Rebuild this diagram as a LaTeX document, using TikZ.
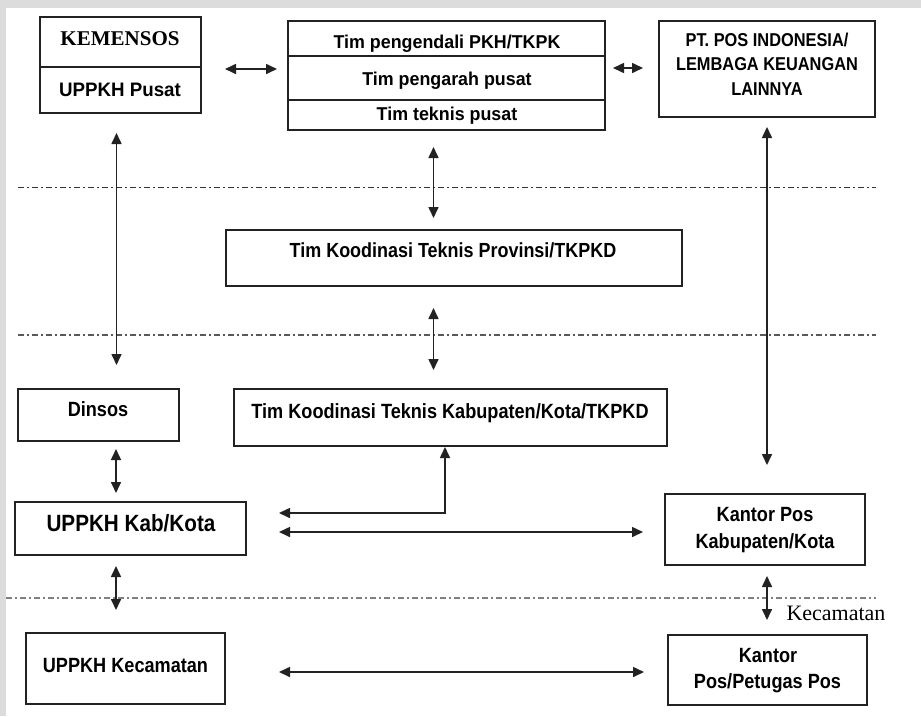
\documentclass[tikz,border=0pt]{standalone}
\usepackage{fontspec}
\setmainfont{Liberation Sans}[FakeStretch=0.88]
\newfontfamily\wsans{Liberation Sans}[FakeStretch=0.96]
\newfontfamily\tnr{Liberation Serif}
\usetikzlibrary{arrows.meta}
\definecolor{edge}{HTML}{222222}
\definecolor{strip}{HTML}{DCDCDC}
\begin{document}
\begin{tikzpicture}[x=1pt,y=-1pt,
  box/.style={draw=edge, line width=1.6pt, inner sep=0pt},
  lbl/.style={anchor=base, inner sep=0pt, text=black, font=\bfseries\fontsize{20.6}{24}\selectfont},
  tlbl/.style={anchor=base, inner sep=0pt, text=black, font=\wsans\bfseries\fontsize{18.6}{22}\selectfont},
  plbl/.style={anchor=base, inner sep=0pt, text=black, font=\bfseries\fontsize{18.6}{22}\selectfont},
  dbl/.style={draw=edge, line width=1.6pt, {Triangle[length=11pt,width=10pt]}-{Triangle[length=11pt,width=10pt]}},
  sep/.style={line width=1.1pt, dash pattern=on 6pt off 3pt on 2pt off 3pt}
]
\useasboundingbox (0,0) rectangle (921,716);
\fill[white] (0,0) rectangle (921,716);
\fill[strip] (0,0) rectangle (921,8);
\fill[strip] (0,0) rectangle (6,716);

% separators
\draw[sep, draw=black!80] (18,187.5) -- (876,187.5);
\draw[sep, draw=black!65] (18,335) -- (876,335);
\draw[sep, draw=black!50] (6,598) -- (876,598);

% boxes
\node[box, minimum width=161pt, minimum height=50pt] (kem) at (120.5,42) {};
\node[box, minimum width=161pt, minimum height=46pt] (upusat) at (120.5,90) {};
\node[box, minimum width=317pt, minimum height=35pt] (tim1) at (446.5,38.5) {};
\node[box, minimum width=317pt, minimum height=44pt] (tim2) at (446.5,78) {};
\node[box, minimum width=317pt, minimum height=30pt] (tim3) at (446.5,115) {};
\node[box, minimum width=216pt, minimum height=96pt] (pt) at (767,69) {};
\node[box, minimum width=456pt, minimum height=56pt] (prov) at (454,258) {};
\node[box, minimum width=161pt, minimum height=52pt] (dinsos) at (98.5,415) {};
\node[box, minimum width=433pt, minimum height=57pt] (kabt) at (450.5,417.5) {};
\node[box, minimum width=231pt, minimum height=53pt] (ukab) at (130.5,528.5) {};
\node[box, minimum width=200pt, minimum height=71pt] (kpkab) at (765,529.5) {};
\node[box, minimum width=199pt, minimum height=71pt] (ukec) at (125.5,668.5) {};
\node[box, minimum width=199pt, minimum height=70pt] (kpkec) at (767.5,670) {};

% texts
\node[anchor=base, inner sep=0pt, font=\tnr\bfseries\fontsize{21}{24}\selectfont] (tkem) at (120,45) {KEMENSOS};
\node[anchor=base, inner sep=0pt, font=\wsans\bfseries\fontsize{19.5}{23}\selectfont] (tupusat) at (120,96) {UPPKH Pusat};
\node[tlbl] (ttim1) at (447,48) {Tim pengendali PKH/TKPK};
\node[tlbl] (ttim2) at (447,85) {Tim pengarah pusat};
\node[tlbl] (ttim3) at (447,120.7) {Tim teknis pusat};
\node[plbl] (tpt1) at (767,46.7) {PT. POS INDONESIA/};
\node[plbl] (tpt2) at (767,70.5) {LEMBAGA KEUANGAN};
\node[plbl] (tpt3) at (767,95) {LAINNYA};
\node[lbl, font=\bfseries\fontsize{20.4}{24}\selectfont] (tprov) at (453,257) {Tim Koodinasi Teknis Provinsi/TKPKD};
\node[lbl] (tdinsos) at (98,416.7) {Dinsos};
\node[lbl] (tkabt) at (450,418.3) {Tim Koodinasi Teknis Kabupaten/Kota/TKPKD};
\node[lbl, font=\bfseries\fontsize{23.5}{26}\selectfont] (tukab) at (131,531.7) {UPPKH Kab/Kota};
\node[lbl] (tukec) at (125.5,672.7) {UPPKH Kecamatan};
\node[lbl] (tkpkab1) at (765,521.7) {Kantor Pos};
\node[lbl] (tkpkab2) at (765,548.3) {Kabupaten/Kota};
\node[lbl] (tkpkec1) at (768,662.7) {Kantor};
\node[lbl] (tkpkec2) at (767.5,688.3) {Pos/Petugas Pos};
\node[anchor=base, inner sep=0pt, font=\tnr\fontsize{22}{24}\selectfont] (tkec) at (836,620) {Kecamatan};

% connector end points
\coordinate (a1s) at (225,69);   \coordinate (a1e) at (277,69);
\coordinate (a2s) at (613,68);   \coordinate (a2e) at (643,68);
\coordinate (a3s) at (116.5,133); \coordinate (a3e) at (116.5,365);
\coordinate (a4s) at (433.5,147); \coordinate (a4e) at (433.5,218);
\coordinate (a5s) at (767,127);  \coordinate (a5e) at (767,465);
\coordinate (a6s) at (433.5,308); \coordinate (a6e) at (433.5,370);
\coordinate (a7s) at (116,449);  \coordinate (a7e) at (116,493);
\coordinate (a8s) at (279,513);  \coordinate (a8m) at (445,513); \coordinate (a8e) at (445,447);
\coordinate (a9s) at (279,532);  \coordinate (a9e) at (643,532);
\coordinate (a10s) at (116,566); \coordinate (a10e) at (116,610);
\coordinate (a11s) at (767,576); \coordinate (a11e) at (767,620);
\coordinate (a12s) at (279,672); \coordinate (a12e) at (644,672);

% connectors
\draw[dbl] (a1s) -- (a1e);
\draw[dbl] (a2s) -- (a2e);
\draw[dbl] (a3s) -- (a3e);
\draw[dbl] (a4s) -- (a4e);
\draw[dbl] (a5s) -- (a5e);
\draw[dbl] (a6s) -- (a6e);
\draw[dbl] (a7s) -- (a7e);
\draw[dbl] (a8s) -- (a8m) -- (a8e);
\draw[dbl] (a9s) -- (a9e);
\draw[dbl] (a10s) -- (a10e);
\draw[dbl] (a11s) -- (a11e);
\draw[dbl] (a12s) -- (a12e);
\end{tikzpicture}
\end{document}
